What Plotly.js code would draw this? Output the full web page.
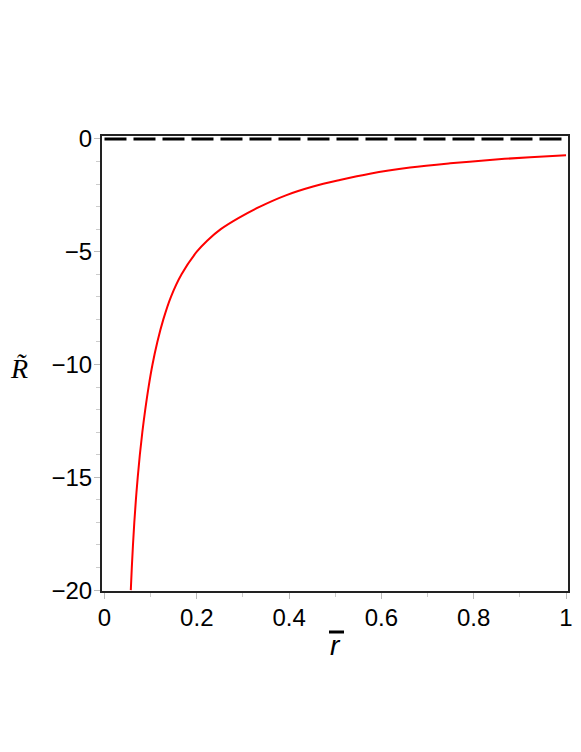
<!DOCTYPE html>
<html>
<head>
<meta charset="utf-8">
<script src="https://cdn.plot.ly/plotly-3.0.1.min.js"></script>
<style>
	html, body { margin: 0; padding: 0; background: #fff; }
	#plot { width: 581px; height: 752px; }
</style>
</head>
<body>
<div id="plot"></div>
<script>
(function () {

	'use strict';

	// curve values
	const rBar = [0.057, 0.0592, 0.0617, 0.0646, 0.068, 0.072, 0.0766, 0.082, 0.0883, 0.0955, 0.104, 0.1145, 0.1275, 0.144, 0.167, 0.2, 0.223, 0.252, 0.291, 0.337, 0.393, 0.452, 0.51, 0.575, 0.662, 0.749, 0.835, 0.922, 1.0];
	const rTilde = [-20, -19, -18, -17, -16, -15, -14, -13, -12, -11, -10, -9, -8, -7, -6, -5, -4.5, -4, -3.5, -3, -2.5, -2.11, -1.82, -1.54, -1.27, -1.08, -0.93, -0.81, -0.72];

	// zero reference line
	const zeroX = [0, 1];
	const zeroY = [0, 0];

	const xTicks = [0, 0.2, 0.4, 0.6, 0.8, 1];
	const xTickText = ['0', '0.2', '0.4', '0.6', '0.8', '1'];
	const yTicks = [0, -5, -10, -15, -20];
	const yTickText = ['0', '\u22125', '\u221210', '\u221215', '\u221220'];

	const data = [
	{
		x: zeroX,
		y: zeroY,
		mode: 'lines',
		line: { color: '#000', width: 3, dash: '22px,7px' },
		hoverinfo: 'skip',
		type: 'scatter'
	},{
		x: rBar,
		y: rTilde,
		mode: 'lines',
		line: { color: '#ff0000', width: 2, shape: 'spline', smoothing: 1 },
		type: 'scatter'
	}];

	const axisFont = { family: 'Liberation Sans, Arial, sans-serif', size: 24, color: '#000' };

	const layout = {
		width: 581,
		height: 752,
		margin: { l: 102, r: 13, t: 136, b: 161 },
		paper_bgcolor: '#fff',
		plot_bgcolor: '#fff',
		showlegend: false,
		xaxis: {
			range: [-0.0054, 1.0043],
			tickvals: xTicks,
			ticktext: xTickText,
			ticks: 'outside',
			ticklen: 6,
			tickcolor: '#bbb',
			minor: { dtick: 0.1, ticks: 'outside', ticklen: 4, tickcolor: '#ccc' },
			showgrid: false,
			zeroline: false,
			showline: true,
			linecolor: '#222',
			linewidth: 2,
			mirror: true,
			tickfont: axisFont,
			ticklabelstandoff: -2
		},
		yaxis: {
			range: [-20.04, 0.13],
			tickvals: yTicks,
			ticktext: yTickText,
			ticks: 'outside',
			ticklen: 6,
			tickcolor: '#bbb',
			minor: { dtick: 1, ticks: 'outside', ticklen: 4, tickcolor: '#ccc' },
			showgrid: false,
			zeroline: false,
			showline: true,
			linecolor: '#222',
			linewidth: 2,
			mirror: true,
			tickfont: axisFont,
			ticklabelstandoff: -3
		},
		shapes: [{
			// overline of the x title
			type: 'line',
			xref: 'paper', yref: 'paper',
			x0: 0.4871, x1: 0.5193, y0: -0.0901, y1: -0.0901,
			line: { color: '#000', width: 3 }
		}],
		annotations: [{
			text: '<i>r</i>',
			xref: 'paper', yref: 'paper',
			x: 0.502, y: -0.1187,
			xanchor: 'center', yanchor: 'middle',
			showarrow: false,
			font: { family: 'Liberation Sans, Arial, sans-serif', size: 28, color: '#000' }
		},{
			// y title
			text: '<i>R\u0303</i>',
			xref: 'paper', yref: 'paper',
			x: -0.178, y: 0.49,
			xanchor: 'center', yanchor: 'middle',
			showarrow: false,
			font: { family: 'Liberation Serif, Times New Roman, serif', size: 28, color: '#000' }
		}]
	};

	Plotly.newPlot('plot', data, layout, { displayModeBar: false, staticPlot: true });

})();
</script>
</body>
</html>
